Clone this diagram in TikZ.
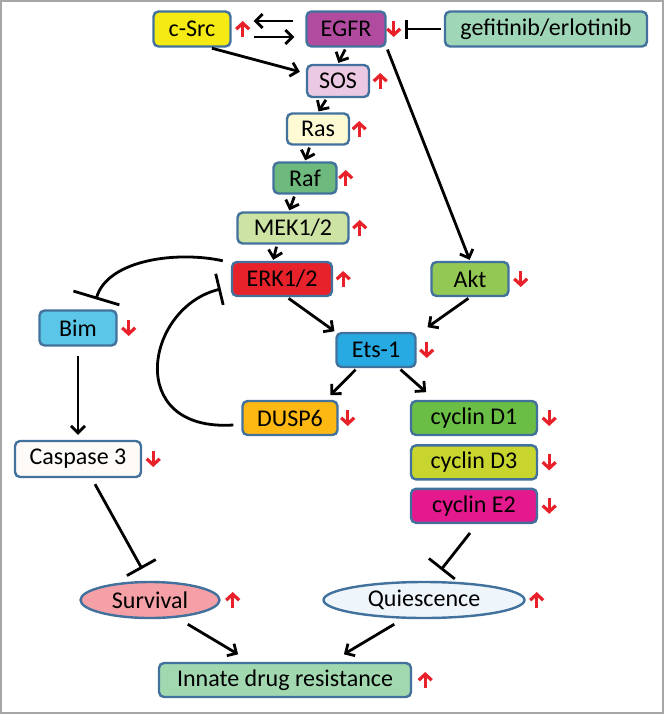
\documentclass[tikz,border=0pt]{standalone}
\usepackage{fontspec}
\setmainfont{Carlito}
\usepackage{tikz}
\usetikzlibrary{positioning}
\usetikzlibrary{arrows.meta}
\usetikzlibrary{shapes.geometric}

\definecolor{boxline}{HTML}{41719C}
\definecolor{markred}{HTML}{E8202A}
\definecolor{csrcfill}{HTML}{F5EA14}
\definecolor{egfrfill}{HTML}{B04B9F}
\definecolor{geffill}{HTML}{A0D6B8}
\definecolor{sosfill}{HTML}{EBC9E3}
\definecolor{rasfill}{HTML}{FDFAD4}
\definecolor{raffill}{HTML}{6DB97E}
\definecolor{mekfill}{HTML}{CDE3A4}
\definecolor{erkfill}{HTML}{E8222B}
\definecolor{aktfill}{HTML}{92C853}
\definecolor{bimfill}{HTML}{5BC6E8}
\definecolor{etsfill}{HTML}{27AAE1}
\definecolor{duspfill}{HTML}{FDB813}
\definecolor{cdonefill}{HTML}{6ABD45}
\definecolor{cdthreefill}{HTML}{C9D52F}
\definecolor{cetwofill}{HTML}{E5198E}
\definecolor{caspfill}{HTML}{FDFAF7}
\definecolor{survfill}{HTML}{F4A0A6}
\definecolor{quiesfill}{HTML}{EEF6FB}
\definecolor{innatefill}{HTML}{A2D8B0}

\newcommand{\upred}[2]{\draw[redmark] ([xshift=#2pt,yshift=-8pt]#1.east) -- ([xshift=#2pt,yshift=8pt]#1.east);}
\newcommand{\downred}[2]{\draw[redmark] ([xshift=#2pt,yshift=8pt]#1.east) -- ([xshift=#2pt,yshift=-8pt]#1.east);}

\begin{document}
\begin{tikzpicture}[
x=1pt, y=-1pt,
genebox/.style={rectangle, rounded corners=5pt, draw=boxline, line width=2.4pt, minimum height=34pt, inner sep=1pt, font=\fontsize{24}{28}\selectfont},
fateoval/.style={ellipse, draw=boxline, line width=2.4pt, minimum height=36pt, inner sep=0pt, font=\fontsize{24}{28}\selectfont},
edge/.style={-{Straight Barb[length=7pt,width=14pt,line width=2.8pt]}, line width=2.8pt, shorten <=2pt, shorten >=1pt},
inhib/.style={-{Bar[width=#1,line width=2.8pt]}, line width=2.8pt},
redmark/.style={-{Straight Barb[length=6pt,width=13pt,line width=3.2pt]}, draw=markred, line width=3.2pt}
]
\useasboundingbox (0,0) rectangle (665,715);
\draw[gray!70, line width=2.5pt] (1,1) rectangle (663,713);

%Nodes
\node[genebox, fill=csrcfill, minimum width=77pt, minimum height=35pt]   (csrc)   at (192,29)  {c-Src};
\node[genebox, fill=egfrfill, minimum width=79pt, minimum height=35pt]   (egfr)   at (346,29)  {EGFR};
\node[genebox, fill=geffill, minimum width=202pt, minimum height=35pt]   (gef)    at (546,29)  {gefitinib/erlotinib};
\node[genebox, fill=sosfill, minimum width=62pt, minimum height=32pt]    (sos)    at (338,81)  {SOS};
\node[genebox, fill=rasfill, minimum width=62pt, minimum height=31pt]    (ras)    at (318,129) {Ras};
\node[genebox, fill=raffill, minimum width=63pt, minimum height=31pt]    (raf)    at (305,178) {Raf};
\node[genebox, fill=mekfill, minimum width=111pt, minimum height=31pt]   (mek)    at (293,228) {MEK1/2};
\node[genebox, fill=erkfill, minimum width=100pt]                        (erk)    at (282,279) {ERK1/2};
\node[genebox, fill=aktfill, minimum width=77pt]                         (akt)    at (470,279) {Akt};
\node[genebox, fill=bimfill, minimum width=77pt, minimum height=35pt]    (bim)    at (78,328)  {Bim};
\node[genebox, fill=etsfill, minimum width=79pt]                         (ets)    at (376,350) {Ets-1};
\node[genebox, fill=duspfill, minimum width=95pt]                        (dusp6)  at (290,418) {DUSP6};
\node[genebox, fill=cdonefill, minimum width=126pt]                      (cd1)    at (474,418) {cyclin D1};
\node[genebox, fill=cdthreefill, minimum width=126pt]                    (cd3)    [below=8pt of cd1] {cyclin D3};
\node[genebox, fill=cetwofill, minimum width=126pt]                      (ce2)    [below=7pt of cd3] {cyclin E2};
\node[genebox, fill=caspfill, minimum width=126pt, minimum height=36pt]  (casp)   at (78,459)  {Caspase 3};
\node[fateoval, fill=survfill, minimum width=139pt]                      (surv)   at (150,600) {Survival};
\node[fateoval, fill=quiesfill, minimum width=201pt]                     (quies)  at (424,600) {Quiescence};
\node[genebox, fill=innatefill, minimum width=252pt]                     (innate) at (285,680) {Innate drug resistance};

%Red marks
\upred{csrc}{11}
\downred{egfr}{7}
\upred{sos}{10}
\upred{ras}{9}
\upred{raf}{8}
\upred{mek}{10}
\upred{erk}{10}
\downred{akt}{11}
\downred{bim}{11}
\downred{ets}{10}
\downred{dusp6}{9}
\downred{cd1}{11}
\downred{cd3}{11}
\downred{ce2}{11}
\downred{casp}{11}
\upred{surv}{12}
\upred{quies}{11}
\upred{innate}{13}

%Edges
\draw[edge] ([xshift=-10pt,yshift=8pt]egfr.west) -- ([xshift=21pt,yshift=8pt]csrc.east);
\draw[edge] ([xshift=20pt,yshift=-8pt]csrc.east) -- ([xshift=-10pt,yshift=-8pt]egfr.west);
\draw[inhib=19pt, shorten <=3pt] (gef.west) -- ([xshift=18pt]egfr.east);
\draw[edge] (egfr.south) -- (sos.north);
\draw[edge] ([xshift=18pt]csrc.south) -- ([xshift=-5pt,yshift=9pt]sos.west);
\draw[edge] ([xshift=-11pt]sos.south) -- (ras.north);
\draw[edge] ([xshift=-8pt]ras.south) -- (raf.north);
\draw[edge] ([xshift=-10pt]raf.south) -- ([xshift=-4pt]mek.north);
\draw[edge] ([xshift=-16pt]mek.south) -- ([xshift=-9pt]erk.north);
\draw[edge] (egfr.south east) -- (akt.north);
\draw[edge] ([xshift=5pt]erk.south) -- (ets.north west);
\draw[edge] (akt.south) -- ([xshift=10pt,yshift=4pt]ets.north east);
\draw[edge] ([xshift=-19pt]ets.south) -- ([xshift=-9pt,yshift=4pt]dusp6.north east);
\draw[edge] ([xshift=23pt]ets.south) -- ([xshift=17pt,yshift=7pt]cd1.north west);
\draw[edge] ([yshift=-7pt]bim.south) -- ([yshift=4pt]casp.north);
\draw[edge] ([xshift=36pt,yshift=-4pt]surv.south) -- ([xshift=-46pt,yshift=7pt]innate.north);
\draw[edge] ([xshift=-28pt,yshift=-4pt]quies.south) -- ([xshift=58pt,yshift=7pt]innate.north);
%Inhibitions
\draw[inhib=48pt] ([xshift=-8pt]erk.north west) .. controls +(-45,-10) and +(12,-40) .. ([xshift=18pt,yshift=10pt]bim.north);
\draw[inhib=32pt] ([xshift=-8pt,yshift=-7pt]dusp6.west) .. controls +(-110,7) and +(-75,18) .. ([xshift=-10pt,yshift=-10pt]erk.west);
\draw[inhib=33pt] ([xshift=17pt,yshift=-6pt]casp.south) -- ([xshift=-8pt,yshift=12pt]surv.north);
\draw[inhib=33pt] ([xshift=-4pt,yshift=-9pt]ce2.south) -- ([xshift=17pt,yshift=11pt]quies.north);

\end{tikzpicture}
\end{document}
